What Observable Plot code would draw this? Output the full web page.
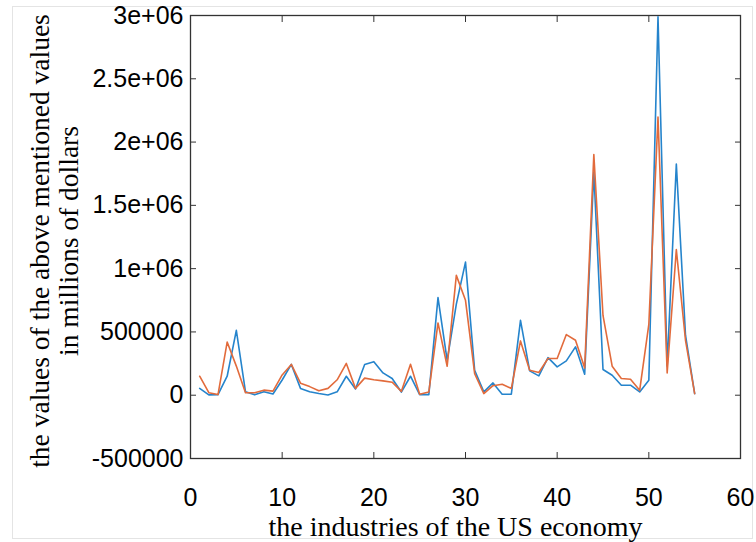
<!DOCTYPE html>
<html><head><meta charset="utf-8">
<script src="https://cdn.jsdelivr.net/npm/d3@7"></script>
<script src="https://cdn.jsdelivr.net/npm/@observablehq/plot@0.6"></script>
<style>
body{margin:0;background:#fff;}
#wrap{position:relative;width:756px;height:542px;}
#border{position:absolute;left:12px;top:6px;width:741px;height:533px;border:1px solid #e4e4e4;box-sizing:border-box;pointer-events:none;}
</style></head><body><div id="wrap"><div id="border"></div></div>
<script>
const industries = [1,2,3,4,5,6,7,8,9,10,11,12,13,14,15,16,17,18,19,20,21,22,23,24,25,26,27,28,29,30,31,32,33,34,35,36,37,38,39,40,41,42,43,44,45,46,47,48,49,50,51,52,53,54,55];
const seriesBlue = [54000,3000,5000,150000,513000,27000,3000,27000,10000,120000,243000,54000,27000,13500,2000,27000,150000,49000,243000,265000,176000,132000,25000,150000,5000,5000,771000,276000,720000,1052000,197000,26000,97000,8000,8000,592000,192000,153000,297000,224000,271000,382000,166000,1763000,203000,158000,79000,79000,26000,118000,2990000,230000,1826000,474000,13000];
const seriesOrange = [150000,20000,5000,420000,230000,20000,20000,40000,32000,160000,243000,95000,68000,35000,54000,122000,251000,54000,135000,122000,113000,103000,30000,245000,8000,26000,571000,229000,947000,750000,171000,13000,75000,87000,53000,429000,197000,179000,290000,290000,479000,434000,216000,1902000,630000,229000,132000,126000,39000,560000,2197000,176000,1150000,434000,13000];
const xTicks = [0,10,20,30,40,50,60];
const yTicks = [-500000,0,500000,1000000,1500000,2000000,2500000,3000000];
const yTickLabels = ["-500000","0","500000","1e+06","1.5e+06","2e+06","2.5e+06","3e+06"];
const xLabel = "the industries of the US economy";
const yLabel = "the values of the above mentioned values\nin millions of dollars";

const blueColor = "#2584cc";
const orangeColor = "#e26b3c";
const axisColor = "#333";
const serif = "'Liberation Serif', 'Times New Roman', serif";

const chart = Plot.plot({
  width: 756,
  height: 542,
  marginLeft: 190,
  marginRight: 16,
  marginTop: 15,
  marginBottom: 84,
  style: {fontFamily: "'Liberation Sans', Arial, sans-serif", background: "transparent", overflow: "visible"},
  x: {domain: [0, 60]},
  y: {domain: [-500000, 3000000]},
  marks: [
    Plot.frame({stroke: axisColor, strokeWidth: 1.3}),
    Plot.axisY(yTicks, {anchor: "left", tickSize: 0, tickPadding: 7, fontSize: 25, fill: "#000", tickFormat: d => yTickLabels[yTicks.indexOf(d)], label: null}),
    Plot.axisY(yTicks, {anchor: "left", tickSize: -6, fill: "none", stroke: axisColor, label: null}),
    Plot.axisY(yTicks, {anchor: "right", tickSize: -6, fill: "none", stroke: axisColor, label: null}),
    Plot.axisX(xTicks, {anchor: "bottom", tickSize: 0, tickPadding: 30, fontSize: 25, fill: "#000", tickFormat: d => String(d), label: null}),
    Plot.axisX(xTicks, {anchor: "bottom", tickSize: -6, fill: "none", stroke: axisColor, label: null}),
    Plot.axisX(xTicks, {anchor: "top", tickSize: -6, fill: "none", stroke: axisColor, label: null}),
    Plot.line(industries, {x: d => d, y: (d, i) => seriesBlue[i], stroke: blueColor, strokeWidth: 1.6}),
    Plot.line(industries, {x: d => d, y: (d, i) => seriesOrange[i], stroke: orangeColor, strokeWidth: 1.6}),
    Plot.text([yLabel], {frameAnchor: "left", textAnchor: "middle", lineAnchor: "middle", rotate: -90, dx: -136, dy: 4, fontFamily: serif, fontSize: 27.5, lineHeight: 1.04, fill: "#000"}),
    Plot.text([xLabel], {frameAnchor: "bottom", textAnchor: "middle", lineAnchor: "middle", dx: -10, dy: 69, fontFamily: serif, fontSize: 28, fill: "#000"})
  ]
});
chart.style.position = "absolute";
chart.style.left = "0";
chart.style.top = "0";
document.getElementById("wrap").appendChild(chart);
</script>
</body></html>
